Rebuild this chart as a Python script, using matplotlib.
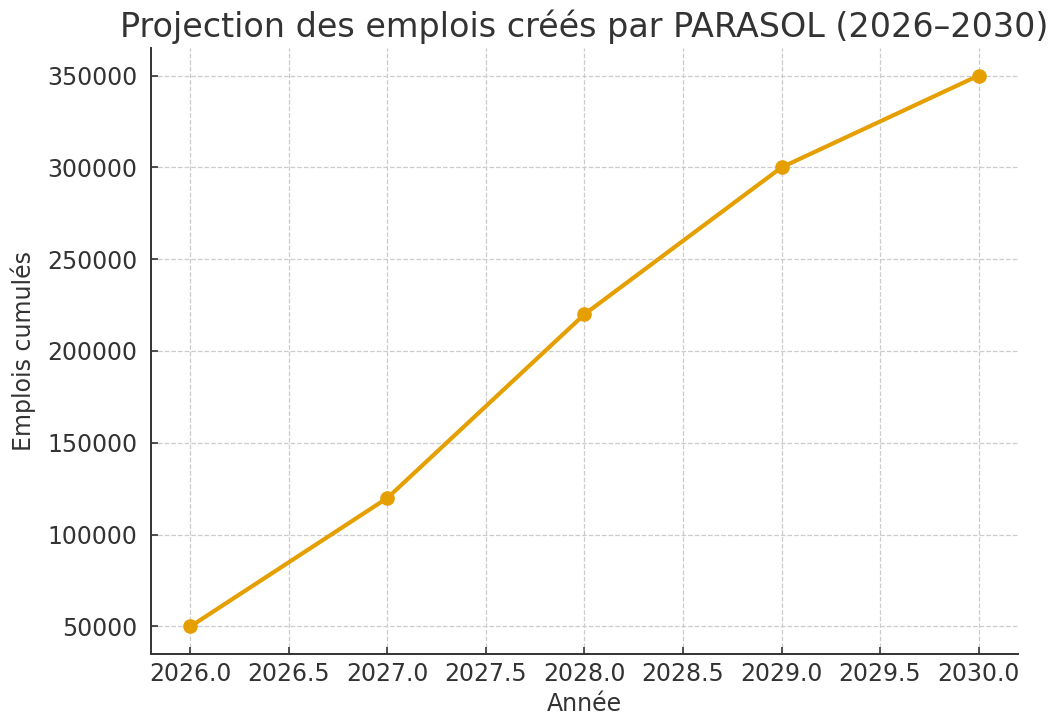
import matplotlib
matplotlib.use("Agg")
import matplotlib.pyplot as plt

annees = [2026, 2027, 2028, 2029, 2030]
emplois = [50000, 120000, 220000, 300000, 350000]

titre = "Projection des emplois créés par PARASOL (2026–2030)"
labelX = "Année"
labelY = "Emplois cumulés"

textColor = "#333333"
lineColor = "#E69F00"

plt.rcParams["font.family"] = "DejaVu Sans"
plt.rcParams["text.color"] = textColor
plt.rcParams["axes.labelcolor"] = textColor
plt.rcParams["xtick.color"] = textColor
plt.rcParams["ytick.color"] = textColor

fig = plt.figure(figsize=(10.54, 7.2), dpi=100)
ax = fig.add_axes([0.1433, 0.0917, 0.8225, 0.8416])

ax.plot(annees, emplois, marker="o", color=lineColor, linewidth=3, markersize=9.5)

ax.set_title(titre, fontsize=24, pad=8)
ax.set_xlabel(labelX, fontsize=17, labelpad=4)
ax.set_ylabel(labelY, fontsize=17, labelpad=8)
ax.tick_params(axis="both", labelsize=17, direction="in", length=5, width=1.2)
ax.tick_params(axis="y", pad=10)
ax.tick_params(axis="x", pad=6)

ax.grid(True, linestyle="--", color="#cccccc", linewidth=0.9)
ax.spines["top"].set_visible(False)
ax.spines["right"].set_visible(False)
ax.spines["left"].set_linewidth(1.4)
ax.spines["bottom"].set_linewidth(1.4)
ax.spines["left"].set_color(textColor)
ax.spines["bottom"].set_color(textColor)

plt.savefig("out.png", dpi=100)
